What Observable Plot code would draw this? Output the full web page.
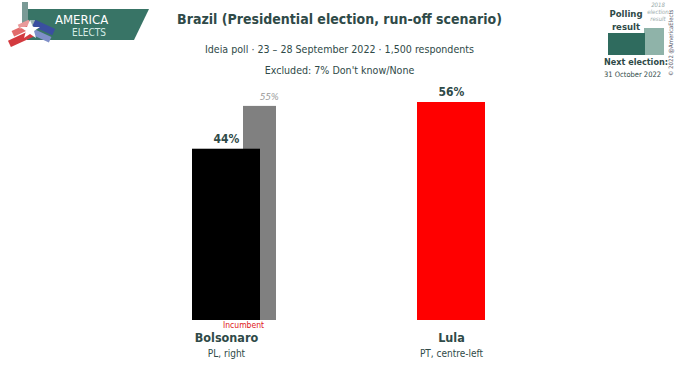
<!DOCTYPE html>
<html>
<head>
<meta charset="utf-8">
<script src="https://cdn.jsdelivr.net/npm/d3@7"></script>
<script src="https://cdn.jsdelivr.net/npm/@observablehq/plot@0.6"></script>
<style>
  html, body { margin: 0; padding: 0; background: #fff; }
  #wrap { position: relative; width: 679px; height: 367px; overflow: hidden;
          font-family: "DejaVu Sans", sans-serif; font-stretch: condensed; color: #2f4a48; }
  .t { position: absolute; white-space: nowrap; }
  #chart { position: absolute; left: 0; top: 0; }
  svg text { font-stretch: condensed; }
</style>
</head>
<body>
<div id="wrap">
  <svg class="t" style="left:0;top:0" width="160" height="50">
    <polygon points="27,9 149,9 134,40 27,40" fill="#387466"/>
    <rect x="22" y="2" width="6" height="24" fill="#7a9a96"/>
    <rect x="30" y="20" width="5" height="16" fill="#9bb5b1"/>
    <rect x="8" y="35" width="26" height="7" fill="#d33a3f" transform="rotate(-25 21 38)"/>
    <rect x="12" y="27" width="18" height="6" fill="#e26b6b" transform="rotate(-25 21 30)"/>
    <rect x="18" y="22" width="12" height="5" fill="#e99a9a" transform="rotate(-25 24 24)"/>
    <rect x="33" y="24" width="22" height="7" fill="#3a4fa0" transform="rotate(25 44 27)"/>
    <rect x="33" y="33" width="18" height="6" fill="#7f8fc8" transform="rotate(25 42 36)"/>
    <polygon points="30,20 33,27 40,27 34,31 36,38 30,34 24,38 26,31 20,27 27,27" fill="#ffffff"/>
    <text x="55" y="24" fill="#ffffff" font-size="13" font-family="DejaVu Sans, sans-serif">AMERICA</text>
    <text x="72" y="36" fill="#d5ece6" font-size="10" font-family="DejaVu Sans, sans-serif">ELECTS</text>
  </svg>
  <div id="chart"></div>
  <div class="t" style="left:0;width:679px;text-align:center;top:11px;font-size:14px;font-weight:bold;">Brazil (Presidential election, run-off scenario)</div>
  <div class="t" style="left:0;width:679px;text-align:center;top:43px;font-size:10.6px;">Ideia poll · 23 – 28 September 2022 · 1,500 respondents</div>
  <div class="t" style="left:0;width:679px;text-align:center;top:64px;font-size:10.6px;">Excluded: 7% Don't know/None</div>

  <div class="t" style="left:606px;top:7px;width:40px;text-align:center;font-size:9.5px;font-weight:bold;line-height:13px;">Polling<br>result</div>
  <div class="t" style="left:646px;top:1px;width:24px;text-align:center;font-size:6px;font-style:italic;color:#9aa;line-height:7px;">2018<br>election<br>result</div>
  <div class="t" style="left:644px;top:28px;width:20px;height:27px;background:#8fb3a9;"></div>
  <div class="t" style="left:608px;top:33px;width:37px;height:22px;background:#2f6b5e;"></div>
  <div class="t" style="left:667px;top:76px;font-size:6px;color:#556;transform:rotate(-90deg);transform-origin:left top;">© 2022 @AmericaElects</div>
  <div class="t" style="left:604px;top:57px;font-size:9px;font-weight:bold;">Next election:</div>
  <div class="t" style="left:604px;top:70px;font-size:7.5px;">31 October 2022</div>
</div>
<script>
const candidates = ["Bolsonaro", "Lula"];
const pollValues = [44, 56];
const pollColors = ["#000000", "#ff0000"];
const parties = ["PL, right", "PT, centre-left"];
const prevCandidates = ["Bolsonaro"];
const prevValues = [55];
const incumbent = ["Bolsonaro"];

const poll = candidates.map((c, i) => ({c, v: pollValues[i], col: pollColors[i], party: parties[i]}));
const prev = prevCandidates.map((c, i) => ({c, v: prevValues[i]}));

const font = "DejaVu Sans, sans-serif";
const ink = "#2f4a48";

const chart = Plot.plot({
  width: 679,
  height: 367,
  marginLeft: 34,
  marginRight: 37,
  marginTop: 102,
  marginBottom: 47,
  style: {fontFamily: font, background: "transparent"},
  x: {type: "band", domain: candidates, padding: 0.698, axis: null},
  y: {domain: [0, 56], axis: null, nice: false},
  marks: [
    Plot.barY(prev, {x: "c", y: "v", fill: "#808080", dx: 51, insetRight: 35}),
    Plot.text(prev, {x: "c", y: "v", text: d => d.v + "%", dx: 43, dy: -9, fill: "#999", fontSize: 9.5, fontStyle: "italic"}),
    Plot.barY(poll, {x: "c", y: "v", fill: "col"}),
    Plot.text(poll, {x: "c", y: "v", text: d => d.v + "%", dy: -10, fill: ink, fontSize: 12, fontWeight: "bold"}),
    Plot.text(incumbent, {x: d => d, frameAnchor: "bottom", text: () => "Incumbent", dx: 17, dy: 7, fill: "#e02020", fontSize: 8.5}),
    Plot.text(poll, {x: "c", frameAnchor: "bottom", text: "c", dy: 21, fill: ink, fontSize: 12.5, fontWeight: "bold"}),
    Plot.text(poll, {x: "c", frameAnchor: "bottom", text: "party", dy: 36, fill: ink, fontSize: 10})
  ]
});
document.getElementById("chart").appendChild(chart);
</script>
</body>
</html>
